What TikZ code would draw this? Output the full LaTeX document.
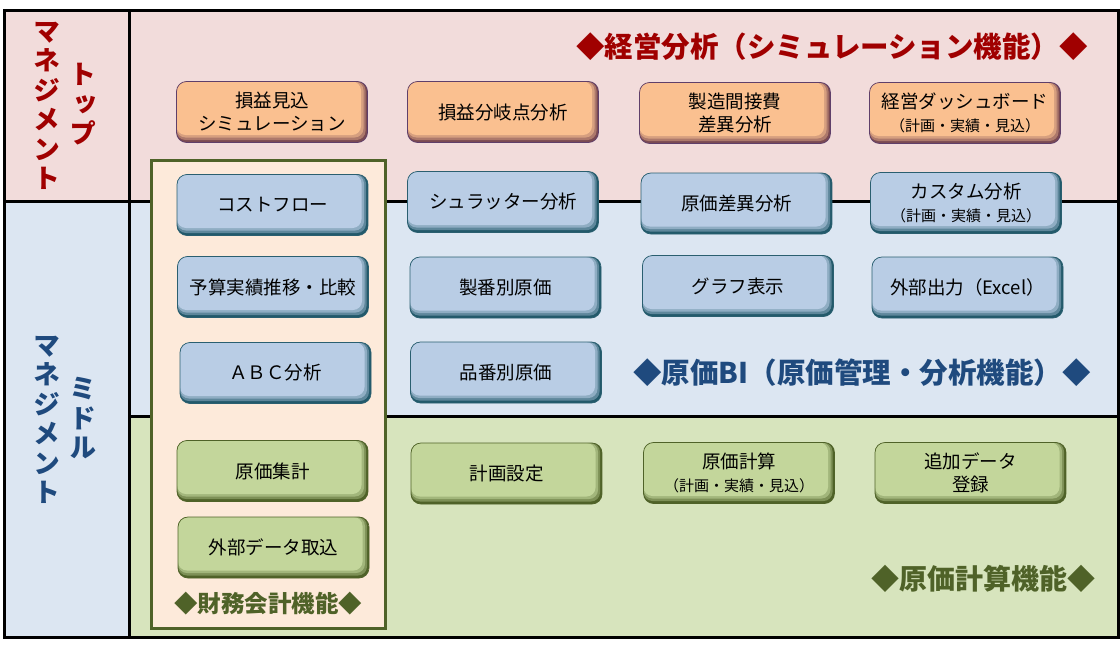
\documentclass[tikz,border=0pt]{standalone}
\usepackage{fontspec}
\setmainfont{Noto Sans CJK JP}
\newfontfamily\vjp[RawFeature=+vert]{Noto Sans CJK JP}
\definecolor{bandpink}{HTML}{F2DCDB}
\definecolor{bandblue}{HTML}{DCE6F2}
\definecolor{bandgreen}{HTML}{D7E4BD}
\definecolor{finfill}{HTML}{FDEADA}
\definecolor{olive}{HTML}{4F6228}
\definecolor{boxorange}{HTML}{FAC090}
\definecolor{boxorangedk}{HTML}{7A4A52}
\definecolor{borderorange}{HTML}{5F3F6A}
\definecolor{boxblue}{HTML}{B9CDE5}
\definecolor{boxbluedk}{HTML}{22596A}
\definecolor{borderblue}{HTML}{2A5F70}
\definecolor{boxgreen}{HTML}{C3D69B}
\definecolor{boxgreendk}{HTML}{4F6228}
\definecolor{tred}{HTML}{A00000}
\definecolor{tblue}{HTML}{1F4A7E}
\tikzset{
  bevel/.style 2 args={path picture={
    \fill[#2] (path picture bounding box.south west) rectangle (path picture bounding box.north east);
    \fill[#1!40!#2, rounded corners=9pt] (path picture bounding box.north west) rectangle ([shift={(-2pt,2.5pt)}]path picture bounding box.south east);
    \fill[#1!72!#2, rounded corners=9pt] (path picture bounding box.north west) rectangle ([shift={(-4pt,5pt)}]path picture bounding box.south east);
    \fill[#1, rounded corners=9pt] (path picture bounding box.north west) rectangle ([shift={(-6.5pt,7.5pt)}]path picture bounding box.south east);
  }},
  boxbase/.style={rounded corners=10pt, minimum width=191pt, minimum height=61pt,
    inner sep=0pt, align=center, text=black, line width=0.7pt,
    font=\fontsize{18.5}{23}\selectfont},
  obox/.style={boxbase, draw=borderorange, bevel={boxorange}{boxorangedk}},
  bbox/.style={boxbase, draw=borderblue, bevel={boxblue}{boxbluedk}},
  gbox/.style={boxbase, draw=olive, bevel={boxgreen}{boxgreendk}},
  vlab/.style={align=center, inner sep=0pt, font=\vjp\bfseries\fontsize{27}{29.5}\selectfont},
  ttl/.style={inner sep=0pt, font=\bfseries\fontsize{#1}{#1}\selectfont},
  frameline/.style={line width=3pt, black}
}
\newcommand{\subl}[1]{{\fontsize{15}{18}\selectfont #1}}
\begin{document}
\begin{tikzpicture}[x=1pt, y=-1pt]
\useasboundingbox (0,0) rectangle (1120,648);
\fill[white] (0,0) rectangle (1120,648);
% bands
\fill[bandpink] (4,10) rectangle (1118,201);
\fill[bandblue] (4,201) rectangle (1118,416);
\fill[bandblue] (4,201) rectangle (129,637);
\fill[bandgreen] (129,416) rectangle (1118,637);
% frame lines
\draw[frameline] (4,10) rectangle (1118,637);
\draw[frameline] (129,10) -- (129,637);
\draw[frameline] (4,201) -- (1118,201);
\draw[frameline] (129,416) -- (1118,416);
% finance box
\draw[line width=3pt, draw=olive, fill=finfill] (151,160) rectangle (385,628);
% left labels
\node[vlab, text=tred] (topm) at (47,106) {マ\\ネ\\ジ\\メ\\ン\\ト};
\node[vlab, text=tred] (topt) at (83,104.5) {ト\\ッ\\プ};
\node[vlab, text=tblue] (midm) at (47,420) {マ\\ネ\\ジ\\メ\\ン\\ト};
\node[vlab, text=tblue] (midt) at (83,418.5) {ミ\\ド\\ル};
% titles
\node[ttl=28.5, text=tred] (t1) at (832,47) {◆経営分析（シミュレーション機能）◆};
\node[ttl=28.5, text=tblue] (t2) at (862,373) {◆原価BI（原価管理・分析機能）◆};
\node[ttl=28, text=olive] (t3) at (983,579) {◆原価計算機能◆};
\node[ttl=23.5, text=olive] (t4) at (268,604) {◆財務会計機能◆};
% row 1
\node[obox] (a1) at (272,112) {損益見込\\シミュレーション};
\node[obox] (a2) at (503,112) {損益分岐点分析};
\node[obox] (a3) at (735,113) {製造間接費\\差異分析};
\node[obox] (a4) at (965,113) {経営ダッシュボード\\\subl{（計画・実績・見込）}};
% row 2
\node[bbox] (b1) at (272.5,205) {コストフロー};
\node[bbox] (b2) at (503,202) {シュラッター分析};
\node[bbox] (b3) at (736.5,203.5) {原価差異分析};
\node[bbox] (b4) at (966,203) {カスタム分析\\\subl{（計画・実績・見込）}};
% row 3
\node[bbox] (c1) at (273,287) {予算実績推移・比較};
\node[bbox] (c2) at (505.5,287.5) {製番別原価};
\node[bbox] (c3) at (738,286) {グラフ表示};
\node[bbox] (c4) at (967.5,287.5) {外部出力（Excel）};
% row 4
\node[bbox] (d1) at (275.5,373) {ＡＢＣ分析};
\node[bbox] (d2) at (506,372.5) {品番別原価};
% row 5
\node[gbox] (e1) at (272.5,471) {原価集計};
\node[gbox] (e2) at (506.5,473.5) {計画設定};
\node[gbox] (e3) at (739,473) {原価計算\\\subl{（計画・実績・見込）}};
\node[gbox] (e4) at (970.5,473) {追加データ\\登録};
\node[gbox] (f1) at (273.5,547.5) {外部データ取込};
\end{tikzpicture}
\end{document}
